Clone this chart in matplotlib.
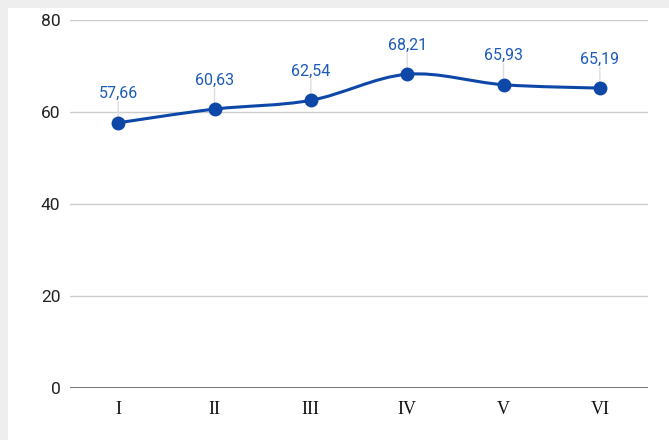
import matplotlib.pyplot as plt
import numpy as np
from matplotlib.path import Path
from matplotlib.patches import PathPatch, Rectangle

categories = ["I", "II", "III", "IV", "V", "VI"]
values = [57.66, 60.63, 62.54, 68.21, 65.93, 65.19]
value_labels = ["57,66", "60,63", "62,54", "68,21", "65,93", "65,19"]
y_ticks = [0, 20, 40, 60, 80]

line_color = "#0d47a8"
label_color = "#1c5bb8"

fig = plt.figure(figsize=(6.69, 4.40), dpi=100)
fig.patch.set_facecolor("white")

# grey shadow on the left and top edges
W, H = 669, 440
fig.add_artist(Rectangle((0, 0), 8 / W, 1, transform=fig.transFigure,
                         facecolor="#eeeeee", edgecolor="none", zorder=0))
fig.add_artist(Rectangle((0, 1 - 8 / H), 1, 8 / H, transform=fig.transFigure,
                         facecolor="#eeeeee", edgecolor="none", zorder=0))

ax = fig.add_axes([70 / W, 52 / H, 578 / W, 368 / H])
ax.set_facecolor("none")

x = np.arange(len(categories))
ax.set_xlim(-0.5, len(categories) - 0.5)
ax.set_ylim(0, 80)

# gridlines
for t in y_ticks[1:]:
    ax.axhline(t, color="#cccccc", lw=1, zorder=1)
ax.axhline(0, color="#666666", lw=2, zorder=2)

# smooth line through the points (cardinal spline as cubic Bezier)
pts = np.column_stack([x, values]).astype(float)
ext = np.vstack([pts[0], pts, pts[-1]])
verts = [tuple(pts[0])]
codes = [Path.MOVETO]
for i in range(len(pts) - 1):
    p0, p1, p2, p3 = ext[i], ext[i + 1], ext[i + 2], ext[i + 3]
    c1 = p1 + (p2 - p0) / 6
    c2 = p2 - (p3 - p1) / 6
    verts += [tuple(c1), tuple(c2), tuple(p2)]
    codes += [Path.CURVE4] * 3
ax.add_patch(PathPatch(Path(verts, codes), facecolor="none", edgecolor=line_color,
                       lw=2.2, zorder=3, capstyle="round"))
ax.plot(x, values, "o", color=line_color, markersize=9, zorder=4)

# data labels with faint leader lines
for xi, v, lab in zip(x, values, value_labels):
    ax.annotate("", xy=(xi, v), xytext=(0, 15), textcoords="offset points",
                arrowprops=dict(arrowstyle="-", color="#dddddd", lw=1,
                                shrinkA=0, shrinkB=4), zorder=2)
    ax.annotate(lab, xy=(xi, v), xytext=(0, 15.5), textcoords="offset points",
                ha="center", va="bottom", color=label_color, fontsize=11.5,
                family="Roboto", zorder=5)

ax.set_yticks(y_ticks)
ax.set_yticklabels([str(t) for t in y_ticks], family="Roboto", fontsize=12.5, color="#222222")
ax.set_xticks(x)
ax.set_xticklabels(categories, family="Liberation Serif", fontsize=13, color="#111111")
ax.tick_params(axis="both", length=0)
ax.tick_params(axis="y", pad=7)
ax.tick_params(axis="x", pad=9)
for s in ax.spines.values():
    s.set_visible(False)

fig.savefig("out.png", dpi=100, facecolor=fig.get_facecolor())
